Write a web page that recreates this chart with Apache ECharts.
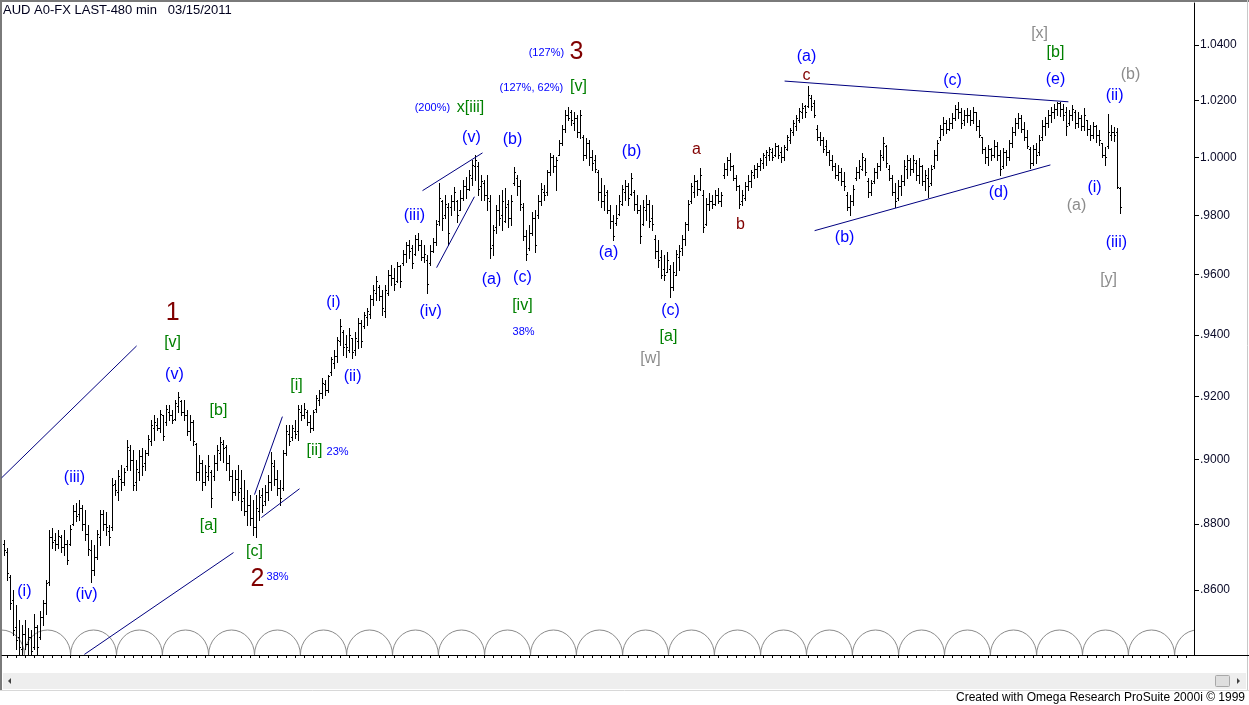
<!DOCTYPE html>
<html><head><meta charset="utf-8">
<script src="https://cdn.jsdelivr.net/npm/echarts@6/dist/echarts.min.js"></script>
<style>html,body{margin:0;padding:0;background:#fff;overflow:hidden}#c{width:1249px;height:705px}</style>
</head><body><div id="c"></div>
<script>
// ---------- DATA (480-min bars, AUD A0-FX) ----------
const opens = [
.8740,.8715,.8640,.8570,.8490,.8460,.8425,.8470,.8440,.8460,
.8430,.8490,.8460,.8520,.8560,.8625,.8760,.8750,.8740,.8760,
.8730,.8740,.8740,.8800,.8840,.8830,.8850,.8800,.8770,.8720,
.8660,.8700,.8760,.8830,.8800,.8780,.8790,.8925,.8900,.8940,
.8930,.8980,.9030,.9000,.8930,.8960,.9010,.8990,.9020,.9060,
.9100,.9110,.9100,.9140,.9120,.9150,.9140,.9130,.9170,.9185,
.9150,.9140,.9090,.9120,.9050,.8960,.8990,.8930,.8950,.8960,
.8950,.8990,.9020,.9050,.9040,.8990,.8950,.8900,.8940,.8910,
.8880,.8840,.8860,.8820,.8790,.8840,.8890,.8870,.8900,.8930,
.8980,.8940,.8910,.8910,.9020,.9080,.9070,.9090,.9090,.9150,
.9140,.9150,.9120,.9100,.9160,.9190,.9210,.9240,.9220,.9280,
.9310,.9330,.9380,.9410,.9370,.9350,.9390,.9350,.9380,.9440,
.9430,.9460,.9470,.9520,.9540,.9560,.9530,.9480,.9540,.9600,
.9590,.9580,.9630,.9640,.9670,.9700,.9690,.9670,.9720,.9700,
.9660,.9650,.9640,.9680,.9710,.9780,.9850,.9800,.9830,.9830,
.9850,.9850,.9820,.9860,.9900,.9890,.9930,.9970,.9970,.9900,
.9910,.9870,.9850,.9700,.9760,.9820,.9800,.9780,.9840,.9790,
.9910,.9930,.9900,.9830,.9730,.9690,.9740,.9790,.9800,.9850,
.9880,.9880,.9950,1.0000,.9970,1.0010,1.0050,1.0100,1.0150,1.0160,
1.0120,1.0140,1.0090,1.0070,1.0010,1.0050,1.0000,.9990,.9950,.9880,
.9850,.9880,.9820,.9780,.9775,.9805,.9840,.9880,.9900,.9875,
.9880,.9840,.9820,.9770,.9820,.9840,.9790,.9720,.9680,.9660,
.9620,.9610,.9620,.9560,.9600,.9660,.9690,.9720,.9770,.9850,
.9880,.9920,.9890,.9870,.9770,.9840,.9850,.9840,.9870,.9850,
.9940,.9960,.9990,.9970,.9930,.9900,.9850,.9860,.9900,.9920,
.9940,.9960,.9970,.9980,1.0000,1.0010,1.0020,1.0010,1.0040,1.0020,
1.0000,1.0030,1.0060,1.0090,1.0110,1.0130,1.0160,1.0180,1.0180,1.0210,
1.0190,1.0100,1.0070,1.0060,1.0040,1.0020,.9990,.9970,.9940,.9950,
.9920,.9870,.9830,.9850,.9930,.9950,.9960,.9990,.9920,.9880,
.9920,.9950,.9970,1.0000,1.0040,.9960,.9930,.9880,.9860,.9900,
.9920,.9960,.9990,.9960,.9980,.9940,.9970,.9920,.9930,.9910,
.9970,1.0010,1.0070,1.0100,1.0120,1.0100,1.0120,1.0140,1.0170,1.0160,
1.0130,1.0150,1.0150,1.0130,1.0160,1.0110,1.0070,1.0030,1.0000,1.0030,
1.0010,1.0040,1.0010,.9970,1.0020,1.0000,1.0050,1.0090,1.0120,1.0140,
1.0100,1.0070,1.0030,.9980,1.0030,1.0020,1.0070,1.0110,1.0120,1.0150,
1.0160,1.0170,1.0190,1.0170,1.0160,1.0120,1.0150,1.0160,1.0120,1.0140,
1.0110,1.0130,1.0100,1.0080,1.0110,1.0080,1.0050,1.0010,1.0040,1.0080,1.0090,1.0090,.9895];
const highs = [
.8752,.8728,.8646,.8601,.8556,.8512,.8497,.8512,.8488,.8482,
.8527,.8497,.8536,.8571,.8631,.8783,.8789,.8774,.8783,.8768,
.8783,.8752,.8798,.8860,.8866,.8875,.8860,.8844,.8798,.8752,
.8737,.8783,.8844,.8844,.8838,.8798,.8943,.8937,.8969,.8984,
.8975,.9063,.9047,.9031,.9000,.9031,.9037,.9031,.9078,.9126,
.9142,.9132,.9158,.9142,.9174,.9174,.9158,.9190,.9216,.9190,
.9190,.9158,.9142,.9126,.9053,.9016,.9000,.8984,.9016,.8969,
.9016,.9047,.9072,.9063,.9047,.9016,.8969,.8969,.8984,.8969,
.8937,.8906,.8891,.8875,.8891,.8906,.8912,.8922,.8953,.9025,
.9000,.8969,.8937,.9031,.9110,.9110,.9110,.9126,.9174,.9174,
.9180,.9158,.9142,.9158,.9206,.9222,.9261,.9254,.9271,.9329,
.9351,.9394,.9453,.9417,.9401,.9424,.9391,.9411,.9457,.9450,
.9476,.9490,.9533,.9566,.9596,.9566,.9549,.9566,.9616,.9632,
.9622,.9642,.9632,.9683,.9710,.9717,.9700,.9734,.9741,.9717,
.9700,.9666,.9700,.9724,.9785,.9912,.9853,.9870,.9843,.9870,
.9898,.9853,.9888,.9922,.9933,.9957,.9991,1.0009,.9984,.9940,
.9922,.9940,.9870,.9768,.9836,.9870,.9888,.9895,.9853,.9870,
.9967,.9940,.9922,.9843,.9751,.9768,.9812,.9819,.9870,.9912,
.9905,.9957,1.0016,1.0009,1.0002,1.0061,1.0114,1.0167,1.0178,1.0167,
1.0160,1.0149,1.0167,1.0079,1.0068,1.0061,1.0026,1.0009,.9957,.9929,
.9905,.9888,.9836,.9802,.9836,.9870,.9905,.9922,.9912,.9946,
.9888,.9870,.9836,.9853,.9870,.9853,.9836,.9734,.9717,.9683,
.9666,.9676,.9632,.9642,.9683,.9700,.9734,.9778,.9853,.9912,
.9940,.9922,.9964,.9888,.9860,.9877,.9870,.9888,.9895,.9881,
.9981,1.0002,1.0016,.9974,.9940,.9905,.9888,.9915,.9940,.9957,
.9974,.9981,.9998,1.0016,1.0026,1.0037,1.0033,1.0051,1.0044,1.0037,
1.0044,1.0079,1.0103,1.0132,1.0149,1.0174,1.0192,1.0185,1.0253,1.0220,
1.0203,1.0114,1.0089,1.0072,1.0061,1.0026,1.0009,.9981,.9974,.9964,
.9950,.9881,.9870,.9905,.9967,.9991,1.0016,.9998,.9929,.9922,
.9964,.9981,1.0026,1.0072,1.0044,.9974,.9940,.9912,.9922,.9940,
.9991,1.0009,.9998,1.0009,.9991,.9998,.9974,.9957,.9964,.9974,
1.0026,1.0061,1.0114,1.0142,1.0132,1.0139,1.0156,1.0185,1.0196,1.0174,
1.0167,1.0174,1.0167,1.0178,1.0160,1.0132,1.0072,1.0037,1.0044,1.0033,
1.0061,1.0054,1.0026,1.0033,1.0026,1.0061,1.0107,1.0139,1.0156,1.0149,
1.0124,1.0096,1.0037,1.0044,1.0051,1.0079,1.0132,1.0142,1.0167,1.0178,
1.0189,1.0196,1.0196,1.0189,1.0178,1.0167,1.0185,1.0167,1.0160,1.0149,
1.0174,1.0132,1.0114,1.0124,1.0114,1.0096,1.0051,1.0037,1.0153,1.0114,1.0107,1.0103,.9898];
const lows = [
.8707,.8631,.8542,.8467,.8424,.8400,.8400,.8424,.8400,.8405,
.8424,.8400,.8453,.8497,.8527,.8616,.8728,.8722,.8728,.8716,
.8707,.8677,.8737,.8798,.8808,.8814,.8783,.8752,.8707,.8625,
.8646,.8692,.8737,.8783,.8768,.8737,.8783,.8891,.8875,.8906,
.8922,.8969,.8969,.8906,.8906,.8937,.8953,.8969,.9016,.9047,
.9063,.9094,.9088,.9063,.9110,.9126,.9116,.9126,.9152,.9142,
.9126,.9078,.9063,.9047,.8937,.8937,.8906,.8922,.8937,.8853,
.8937,.8969,.9000,.8994,.8969,.8937,.8875,.8891,.8875,.8844,
.8829,.8798,.8798,.8768,.8761,.8814,.8838,.8860,.8875,.8906,
.8922,.8891,.8860,.8906,.9016,.9047,.9063,.9069,.9063,.9126,
.9132,.9110,.9088,.9094,.9152,.9174,.9196,.9206,.9216,.9271,
.9293,.9313,.9368,.9335,.9329,.9345,.9326,.9335,.9358,.9361,
.9424,.9434,.9457,.9500,.9516,.9516,.9467,.9460,.9533,.9566,
.9549,.9576,.9559,.9632,.9642,.9656,.9622,.9666,.9683,.9649,
.9642,.9539,.9632,.9676,.9700,.9768,.9751,.9792,.9700,.9802,
.9819,.9778,.9819,.9853,.9860,.9888,.9905,.9922,.9870,.9853,
.9853,.9819,.9656,.9666,.9741,.9768,.9751,.9778,.9761,.9768,
.9905,.9870,.9819,.9717,.9649,.9683,.9734,.9676,.9792,.9836,
.9853,.9870,.9940,.9950,.9888,1.0009,1.0044,1.0089,1.0132,1.0114,
1.0096,1.0072,1.0068,.9991,.9998,.9974,.9957,.9950,.9853,.9829,
.9819,.9809,.9758,.9717,.9768,.9802,.9836,.9853,.9836,.9870,
.9819,.9809,.9707,.9768,.9785,.9761,.9751,.9656,.9626,.9589,
.9582,.9609,.9526,.9549,.9599,.9616,.9666,.9700,.9751,.9843,
.9864,.9870,.9888,.9744,.9768,.9819,.9826,.9836,.9843,.9833,
.9929,.9940,.9957,.9922,.9888,.9826,.9836,.9853,.9888,.9898,
.9929,.9933,.9957,.9964,.9974,.9991,.9991,1.0005,.9998,.9984,
.9991,1.0026,1.0051,1.0079,1.0096,1.0124,1.0139,1.0142,1.0178,1.0167,
1.0142,1.0061,1.0044,1.0019,1.0009,.9974,.9957,.9929,.9922,.9905,
.9888,.9819,.9802,.9836,.9922,.9929,.9957,.9940,.9864,.9870,
.9912,.9929,.9957,.9991,.9967,.9922,.9870,.9829,.9853,.9870,
.9905,.9929,.9940,.9950,.9922,.9912,.9905,.9888,.9864,.9905,
.9964,.9991,1.0061,1.0079,1.0086,1.0096,1.0103,1.0132,1.0139,1.0103,
1.0114,1.0124,1.0114,1.0121,1.0096,1.0072,1.0016,.9981,.9974,.9991,
1.0002,.9991,.9940,.9964,.9974,.9991,1.0037,1.0079,1.0103,1.0089,
1.0061,1.0033,.9964,.9974,.9981,1.0009,1.0061,1.0079,1.0107,1.0124,
1.0139,1.0149,1.0146,1.0132,1.0079,1.0114,1.0132,1.0103,1.0107,1.0096,
1.0096,1.0079,1.0061,1.0068,1.0054,1.0044,1.0002,.9974,1.0033,1.0061,1.0058,.9895,.9809];
const closes = [
.8720,.8650,.8560,.8480,.8450,.8430,.8470,.8440,.8460,.8420,
.8490,.8430,.8520,.8560,.8620,.8760,.8745,.8740,.8765,.8730,
.8740,.8690,.8785,.8840,.8825,.8850,.8800,.8770,.8725,.8660,
.8700,.8770,.8830,.8800,.8790,.8760,.8920,.8905,.8950,.8930,
.8960,.9040,.9000,.8920,.8970,.9010,.8980,.9020,.9065,.9110,
.9120,.9100,.9145,.9075,.9160,.9140,.9125,.9180,.9200,.9150,
.9140,.9090,.9120,.9060,.8960,.8990,.8930,.8960,.8980,.8880,
.8990,.9030,.9055,.9035,.8990,.8950,.8900,.8940,.8900,.8870,
.8840,.8860,.8820,.8790,.8850,.8885,.8860,.8900,.8930,.8990,
.8940,.8910,.8880,.9020,.9090,.9060,.9100,.9080,.9160,.9140,
.9160,.9120,.9100,.9150,.9195,.9210,.9245,.9220,.9265,.9320,
.9330,.9385,.9430,.9360,.9360,.9400,.9345,.9390,.9440,.9380,
.9465,.9480,.9520,.9550,.9580,.9530,.9490,.9550,.9600,.9590,
.9570,.9630,.9580,.9670,.9700,.9680,.9640,.9720,.9700,.9660,
.9670,.9570,.9680,.9710,.9770,.9860,.9790,.9840,.9740,.9850,
.9880,.9800,.9860,.9900,.9890,.9940,.9975,.9990,.9890,.9920,
.9870,.9860,.9690,.9750,.9820,.9790,.9850,.9830,.9790,.9850,
.9950,.9900,.9840,.9730,.9670,.9740,.9790,.9700,.9850,.9890,
.9870,.9950,1.0000,.9970,.9990,1.0050,1.0100,1.0150,1.0140,1.0130,
1.0140,1.0090,1.0150,1.0010,1.0050,1.0000,.9980,.9960,.9880,.9850,
.9870,.9820,.9780,.9730,.9790,.9850,.9890,.9900,.9860,.9930,
.9840,.9820,.9730,.9830,.9840,.9780,.9770,.9680,.9650,.9600,
.9600,.9650,.9560,.9610,.9670,.9680,.9720,.9770,.9840,.9900,
.9920,.9890,.9940,.9760,.9840,.9850,.9840,.9870,.9850,.9870,
.9960,.9990,.9970,.9930,.9900,.9840,.9870,.9900,.9920,.9950,
.9960,.9970,.9990,1.0010,1.0020,1.0030,1.0000,1.0040,1.0010,1.0000,
1.0035,1.0070,1.0095,1.0120,1.0140,1.0165,1.0175,1.0160,1.0220,1.0180,
1.0150,1.0070,1.0060,1.0030,1.0020,.9990,.9970,.9940,.9950,.9920,
.9900,.9830,.9850,.9890,.9950,.9970,1.0000,.9950,.9880,.9910,
.9950,.9970,1.0010,1.0050,.9980,.9930,.9880,.9850,.9900,.9920,
.9970,.9990,.9960,.9990,.9940,.9970,.9920,.9940,.9900,.9960,
1.0010,1.0050,1.0100,1.0120,1.0100,1.0120,1.0140,1.0170,1.0160,1.0120,
1.0150,1.0150,1.0130,1.0160,1.0110,1.0080,1.0030,1.0000,1.0030,1.0010,
1.0040,1.0010,.9960,1.0020,1.0000,1.0050,1.0090,1.0120,1.0140,1.0100,
1.0070,1.0040,.9980,1.0030,1.0010,1.0060,1.0110,1.0120,1.0150,1.0160,
1.0170,1.0190,1.0170,1.0150,1.0110,1.0150,1.0170,1.0120,1.0140,1.0110,
1.0150,1.0100,1.0080,1.0110,1.0080,1.0060,1.0010,1.0000,1.0090,1.0090,1.0080,.9898,.9830];

// price axis (log scale)
const priceTicks = [1.04, 1.02, 1.00, 0.98, 0.96, 0.94, 0.92, 0.90, 0.88, 0.86];
const priceTickLabels = ['1.0400','1.0200','1.0000','.9800','.9600','.9400','.9200','.9000','.8800','.8600'];
const priceMin = 0.84073, priceMax = 1.05534;
const barMin = -0.667, barMax = 396.667;

// cycle lows (bar positions) of the bottom cycle indicator
const cycleLows = [-8.5,6.8,22.2,37.5,52.8,68.2,83.5,98.8,114.2,129.5,144.8,160.2,175.5,190.8,206.2,221.5,236.8,252.2,267.5,282.8,298.2,313.5,328.8,344.2,359.5,374.8,390.2,405.5];

// wave labels
const labelText  = ['(i)','(iii)','(iv)','(v)','(i)','(ii)','(iii)','(iv)','(v)','(b)','(a)','(c)','(a)','(b)','(c)','(a)','(b)','(c)','(d)','(e)','(i)','(ii)','(iii)',
  '(200%)','(127%)','(127%, 62%)','38%','23%','38%',
  '[v]','[b]','[a]','[c]','[i]','[ii]','x[iii]','[iv]','[v]','[a]','[b]',
  '[w]','[x]','(b)','(a)','[y]',
  'a','b','c','1','2','3'];
const labelBar   = [6.8,23.5,27.5,56.8,109.8,116.2,136.8,142.2,155.8,169.5,162.5,172.8,201.5,209.2,222.2,267.5,280.2,316.2,331.5,350.5,363.5,370.2,370.8,
  142.8,180.8,175.8,173.2,111.2,91.2,
  56.2,71.5,68.2,83.5,97.5,103.5,155.5,172.8,191.5,221.5,350.5,
  215.5,345.2,375.5,357.5,368.2,
  230.8,245.5,267.5,56.2,84.5,190.8];
const labelPrice = [.8595,.8943,.8586,.9271,.9506,.9264,.9799,.9476,1.0068,1.0061,.9582,.9589,.9673,1.0019,.9480,1.0357,.9724,1.0270,.9877,1.0274,.9895,1.0217,.9707,
  1.0174,1.0371,1.0245,.9410,.9025,.8640,
  .9374,.9155,.8796,.8716,.9235,.9028,1.0174,.9496,1.0249,.9394,1.0371,
  .9322,1.0443,1.0292,.9833,.9582,
  1.0026,.9768,1.0288,.9473,.8634,1.0375];
const labelKind  = ['blue','blue','blue','blue','blue','blue','blue','blue','blue','blue','blue','blue','blue','blue','blue','blue','blue','blue','blue','blue','blue','blue','blue',
  'pct','pct','pct','pct','pct','pct',
  'green','green','green','green','green','green','green','green','green','green','green',
  'gray','gray','gray','gray','gray',
  'red','red','red','big','big','big'];

// trend lines [barStart, priceStart, barEnd, priceEnd]
const trendLines = [
  [-0.8, .8943, 44.2, .9364],
  [26.8, .8409, 76.5, .8713],
  [83.5, .8891, 92.8, .9136],
  [85.8, .8820, 98.5, .8909],
  [139.5, .9885, 159.5, 1.0016],
  [144.2, .9623, 156.8, .9864],
  [260.2, 1.0270, 354.8, 1.0196],
  [270.2, .9748, 348.8, .9974]
];

// ---------- CHART ----------
const LN = Math.log;
const FONT = '"Liberation Sans", Arial, sans-serif';
const kindStyle = {
  blue:  {color:'#0000ff', size:16},
  pct:   {color:'#0000ff', size:11},
  green: {color:'#008000', size:16},
  gray:  {color:'#8c8c8c', size:16},
  red:   {color:'#800000', size:16},
  big:   {color:'#800000', size:25}
};
const n = Math.min(opens.length, highs.length, lows.length, closes.length);
const barData = [];
for (let i = 0; i < n; i++) barData.push([i, LN(opens[i]), LN(highs[i]), LN(lows[i]), LN(closes[i])]);
const arcData = cycleLows.slice(0, -1).map((c, k) => [c, cycleLows[k + 1]]);
const labelData = labelText.map((t, k) => [labelBar[k], LN(labelPrice[k]), k]);
const xTicks = []; for (let t = 1; t <= 396; t += 3) xTicks.push(t);
const yMin = LN(priceMin), yMax = LN(priceMax);

function renderBar(params, api) {
  const i = api.value(0);
  const pO = api.coord([i, api.value(1)]);
  const pH = api.coord([i, api.value(2)]);
  const pL = api.coord([i, api.value(3)]);
  const pC = api.coord([i, api.value(4)]);
  const x = Math.round(pH[0]);
  const yH = Math.round(pH[1]), yL = Math.round(pL[1]);
  const st = {fill:'#000'};
  return {type:'group', children:[
    {type:'rect', shape:{x:x, y:yH, width:1, height:Math.max(1, yL - yH + 1)}, style:st},
    {type:'rect', shape:{x:x - 1, y:Math.round(pO[1]), width:1, height:1}, style:st},
    {type:'rect', shape:{x:x + 1, y:Math.round(pC[1]), width:1, height:1}, style:st}
  ]};
}
function renderArc(params, api) {
  const a = api.coord([api.value(0), yMin]);
  const b = api.coord([api.value(1), yMin]);
  const rx = (b[0] - a[0]) / 2;
  return {type:'path', shape:{pathData:'M' + a[0] + ' ' + a[1] + ' A' + rx + ' 25 0 0 1 ' + b[0] + ' ' + b[1]},
    style:{fill:null, stroke:'#8a8a8a', lineWidth:1}};
}
function renderLabel(params, api) {
  const k = api.value(2);
  const p = api.coord([api.value(0), api.value(1)]);
  const ks = kindStyle[labelKind[k]];
  return {type:'text', x:p[0], y:p[1], style:{text:labelText[k], fill:ks.color,
    font: ks.size + 'px ' + FONT, align:'center', verticalAlign:'middle', textAlign:'center', textVerticalAlign:'middle'}};
}

const series = [
  {type:'custom', renderItem:renderArc, data:arcData, clip:true, silent:true, z:1, encode:{x:[0,1]}},
  {type:'custom', renderItem:renderBar, data:barData, clip:true, silent:true, z:2, encode:{x:0, y:[1,2,3,4]}},
];
trendLines.forEach(t => series.push({type:'line', data:[[t[0], LN(t[1])], [t[2], LN(t[3])]], symbol:'none', silent:true, clip:true, z:3,
  lineStyle:{color:'#000080', width:1}}));
series.push({type:'custom', renderItem:renderLabel, data:labelData, silent:true, z:4, encode:{x:0, y:1}});

const chart = echarts.init(document.getElementById('c'), null, {renderer:'canvas'});
chart.setOption({
  animation:false,
  backgroundColor:'#ffffff',
  grid:{left:2, right:55, top:3, bottom:50, containLabel:false},
  xAxis:{type:'value', min:barMin, max:barMax,
    axisLine:{show:true, onZero:false, lineStyle:{color:'#000', width:1}},
    axisTick:{show:true, inside:false, length:3, customValues:xTicks, lineStyle:{color:'#000', width:1}},
    axisLabel:{show:false}, splitLine:{show:false}},
  yAxis:{type:'value', position:'right', min:yMin, max:yMax,
    axisLine:{show:true, onZero:false, lineStyle:{color:'#000', width:1}},
    axisTick:{show:true, inside:false, length:5, customValues:priceTicks.map(LN), lineStyle:{color:'#000', width:1}},
    axisLabel:{show:true, margin:6, color:'#0a0a28', fontSize:12, fontFamily:'Liberation Sans',
      customValues:priceTicks.map(LN),
      formatter:function(v){ for (let k = 0; k < priceTicks.length; k++) { if (Math.abs(LN(priceTicks[k]) - v) < 1e-6) return priceTickLabels[k]; } return ''; }},
    splitLine:{show:false}},
  graphic:[
    {type:'line', shape:{x1:0, y1:1, x2:1249, y2:1}, style:{stroke:'#7a7a7a', lineWidth:2}, silent:true},
    {type:'line', shape:{x1:1, y1:0, x2:1, y2:691}, style:{stroke:'#7a7a7a', lineWidth:2}, silent:true},
    {type:'line', shape:{x1:1247.5, y1:0, x2:1247.5, y2:691}, style:{stroke:'#c8c8c8', lineWidth:1}, silent:true},
    {type:'line', shape:{x1:0, y1:690.5, x2:1249, y2:690.5}, style:{stroke:'#d8d8d8', lineWidth:1}, silent:true},
    {type:'line', shape:{x1:1194, y1:655.5, x2:1249, y2:655.5}, style:{stroke:'#000', lineWidth:1}, silent:true},
    {type:'rect', shape:{x:3, y:673, width:1243, height:16}, style:{fill:'#eeeeee', stroke:null}, silent:true},
    {type:'polygon', shape:{points:[[11,678],[11,684],[8,681]]}, style:{fill:'#404040'}, silent:true},
    {type:'rect', shape:{x:1215.5, y:675.5, width:14, height:11, r:1}, style:{fill:'#dedede', stroke:'#a8a8a8', lineWidth:1}, silent:true},
    {type:'polygon', shape:{points:[[1237,678],[1237,684],[1240,681]]}, style:{fill:'#404040'}, silent:true},
    {type:'text', x:3, y:10, style:{text:'AUD A0-FX LAST-480 min   03/15/2011', fill:'#00001e', font:'13px ' + FONT, verticalAlign:'middle', textVerticalAlign:'middle'}, silent:true},
    {type:'text', x:1245, y:698, style:{text:'Created with Omega Research ProSuite 2000i \u00a9 1999', fill:'#000', font:'12px ' + FONT, align:'right', textAlign:'right', verticalAlign:'middle', textVerticalAlign:'middle'}, silent:true}
  ],
  series: series
});
</script>
</body></html>
